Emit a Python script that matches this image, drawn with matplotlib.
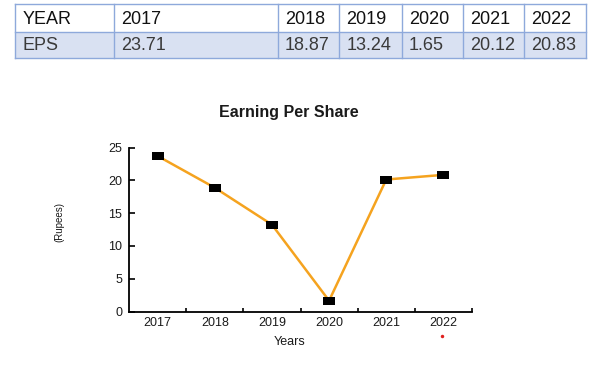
import matplotlib
matplotlib.use("Agg")
import matplotlib.pyplot as plt
from matplotlib.patches import Rectangle
from matplotlib.lines import Line2D

# Data
years = ["2017", "2018", "2019", "2020", "2021", "2022"]
eps = [23.71, 18.87, 13.24, 1.65, 20.12, 20.83]
eps_labels = ["23.71", "18.87", "13.24", "1.65", "20.12", "20.83"]

plt.rcParams['font.family'] = ['Liberation Sans', 'DejaVu Sans']

W, H = 602, 378
fig = plt.figure(figsize=(W / 100, H / 100), dpi=100)

# ---- table on top (pixel coordinates) ----
tab = fig.add_axes([0, 0, 1, 1])
tab.set_xlim(0, W)
tab.set_ylim(H, 0)
tab.axis('off')

col_edges = [15.3, 114, 277.7, 339.3, 401.7, 462.7, 524.3, 586]
row_edges = [4.3, 31.7, 57.7]
border = '#8EA9DB'
fill2 = '#D9E1F2'

# second row background
tab.add_patch(Rectangle((col_edges[0], row_edges[1]), col_edges[-1] - col_edges[0],
                        row_edges[2] - row_edges[1], facecolor=fill2, edgecolor='none'))
for x in col_edges:
    tab.plot([x, x], [row_edges[0], row_edges[-1]], color=border, lw=1.0)
for y in row_edges:
    tab.plot([col_edges[0], col_edges[-1]], [y, y], color=border, lw=1.0)

header = ["YEAR"] + years
row2 = ["EPS"] + eps_labels
for i in range(len(header)):
    x0 = col_edges[i] + 7
    tab.text(x0, (row_edges[0] + row_edges[1]) / 2 + 1, header[i], fontsize=13,
             ha='left', va='center', color='#111111')
    tab.text(x0, (row_edges[1] + row_edges[2]) / 2 + 1, row2[i], fontsize=13,
             ha='left', va='center', color='#3a3a3a')

# ---- line chart ----
ax = fig.add_axes([129 / W, 1 - 311.5 / H, (472 - 129) / W, (311.5 - 147.5) / H])
xs = list(range(len(years)))
rect = [(-1, -0.64), (1, -0.64), (1, 0.64), (-1, 0.64), (-1, -0.64)]
ax.plot(xs, eps, color='#F5A31F', lw=1.8, marker=rect, ms=8,
        markerfacecolor='black', markeredgewidth=0, zorder=3)

ax.set_xlim(-0.5, len(years) - 0.5)
ax.set_ylim(0, 25)
ax.set_yticks([0, 5, 10, 15, 20, 25])
ax.set_xticks(xs)
ax.set_xticklabels(years)
ax.set_xticks([i + 0.5 for i in xs], minor=True)
ax.tick_params(axis='x', which='major', length=0, pad=4, labelsize=9, labelcolor='#1a1a1a')
ax.tick_params(axis='x', which='minor', direction='in', length=3, width=1.2)
ax.tick_params(axis='y', direction='in', length=4.5, width=1.2, pad=5,
               labelsize=9, labelcolor='#1a1a1a')
for s in ['top', 'right']:
    ax.spines[s].set_visible(False)
for s in ['left', 'bottom']:
    ax.spines[s].set_linewidth(1.3)
ax.patch.set_alpha(0)

fig.text(289 / W, 1 - 112.7 / H, "Earning Per Share", fontsize=11.5, fontweight='bold',
         ha='center', va='center', color='#1a1a1a')
fig.text(289.5 / W, 1 - 341.7 / H, "Years", fontsize=9, ha='center', va='center',
         color='#1a1a1a')
fig.text(59 / W, 1 - 222 / H, "(Rupees)", fontsize=7, rotation=90, ha='center',
         va='center', color='#1a1a1a')

# small red dot under the axis
fig.add_artist(Line2D([442 / W], [1 - 336 / H], marker='o', ms=2.5, color='#E0201E',
                      markeredgewidth=0, transform=fig.transFigure))

fig.savefig("out.png", dpi=100)
